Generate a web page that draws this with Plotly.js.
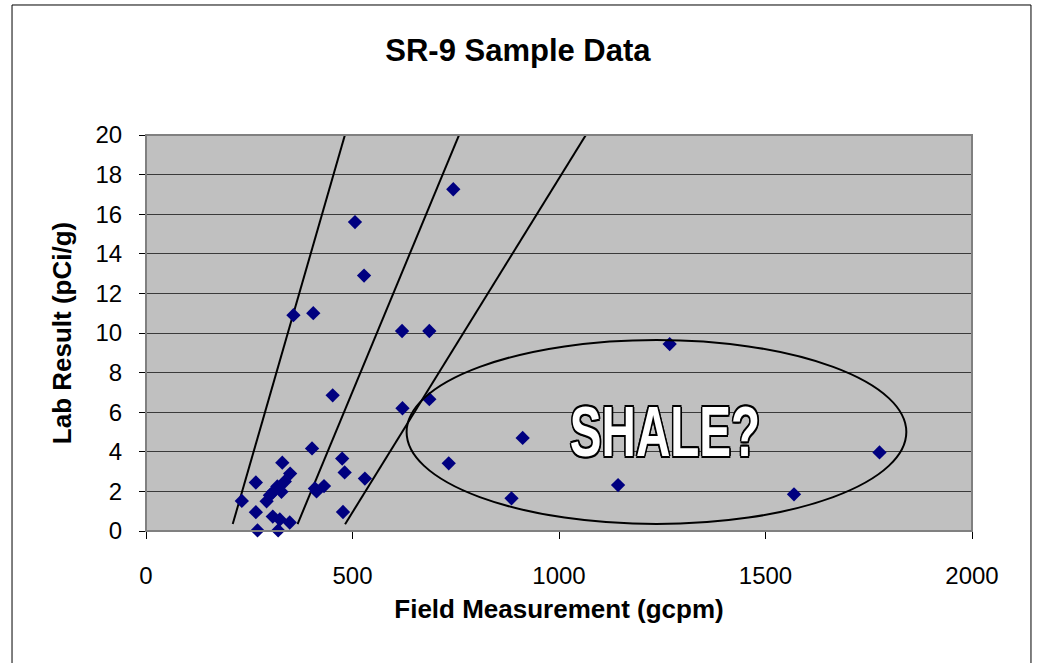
<!DOCTYPE html>
<html>
<head>
<meta charset="utf-8">
<script src="https://cdn.plot.ly/plotly-3.0.1.min.js"></script>
<style>
  html, body { margin: 0; padding: 0; background: #ffffff; }
  #chart { width: 1040px; height: 663px; }
</style>
</head>
<body>
<div id="chart"></div>
<script>
// Sample points: field measurement (gcpm) vs lab result (pCi/g)
var fieldGcpm = [232, 266, 266, 270, 292, 307, 336, 318, 308, 328, 300, 330, 324, 320, 349, 348,
                 357, 405, 402, 409, 413, 431, 452, 475, 481, 477, 506, 528, 530,
                 620, 686, 621, 686, 744, 733, 885, 912, 1143, 1268, 1569, 1776];
var labPci    = [1.52, 2.45, 0.95, 0.03, 1.5, 0.73, 2.5, 2.25, 1.98, 1.98, 1.8, 3.45, 0.58, 0.03, 2.9, 0.43,
                 10.9, 11.0, 4.17, 2.15, 2.0, 2.27, 6.85, 3.66, 2.96, 0.96, 15.6, 12.9, 2.65,
                 10.1, 10.1, 6.2, 6.66, 17.26, 3.42, 1.65, 4.7, 2.32, 9.44, 1.85, 3.97];

// Hand-drawn guide lines (endpoints in data units)
var line1X = [210, 483];  var line1Y = [0.35, 20.1];
var line2X = [367, 760];  var line2Y = [0.35, 20.1];
var line3X = [482, 1068]; var line3Y = [0.34, 20.1];

// "SHALE?" ellipse bounds (data units) and label
var ellipseX = [631, 1841];
var ellipseY = [0.35, 9.65];
var shaleLabel = "SHALE?";
var shaleAt = [1257, 5.0];

var xTicks = [0, 500, 1000, 1500, 2000];
var yTicks = [0, 2, 4, 6, 8, 10, 12, 14, 16, 18, 20];

var lineStyle = {color: '#000000', width: 2};
var traces = [
  {x: line1X, y: line1Y, mode: 'lines', line: lineStyle, cliponaxis: false, hoverinfo: 'skip', showlegend: false},
  {x: line2X, y: line2Y, mode: 'lines', line: lineStyle, cliponaxis: false, hoverinfo: 'skip', showlegend: false},
  {x: line3X, y: line3Y, mode: 'lines', line: lineStyle, cliponaxis: false, hoverinfo: 'skip', showlegend: false},
  {x: fieldGcpm, y: labPci, mode: 'markers', type: 'scatter', cliponaxis: false, showlegend: false,
   marker: {symbol: 'diamond', size: 11, color: '#000080', line: {width: 0}}}
];

var fam = 'Liberation Sans, Arial, sans-serif';
var axisFont = {family: fam, size: 24, color: '#000'};
var titleFont = {family: fam, size: 26, color: '#000', weight: 'bold'};

var layout = {
  width: 1040, height: 663,
  paper_bgcolor: '#ffffff',
  plot_bgcolor: '#c0c0c0',
  margin: {l: 146, r: 68, t: 135, b: 132},
  title: {text: 'SR-9 Sample Data', x: 0.498, xanchor: 'center', y: 0.925, yanchor: 'middle',
          font: {family: fam, size: 31, color: '#000', weight: 'bold'}},
  xaxis: {
    range: [0, 2000], tickvals: xTicks, ticktext: xTicks.map(String),
    showgrid: false, zeroline: false,
    showline: true, linecolor: '#000', linewidth: 1,
    ticks: 'outside', ticklen: 7, tickcolor: '#000', ticklabelstandoff: 16,
    tickfont: axisFont,
    title: {text: 'Field Measurement (gcpm)', font: titleFont, standoff: 12}
  },
  yaxis: {
    range: [0, 20], tickvals: yTicks, ticktext: yTicks.map(String),
    showgrid: true, gridcolor: '#3a3a3a', gridwidth: 1, zeroline: false,
    showline: true, linecolor: '#000', linewidth: 1,
    ticks: 'outside', ticklen: 6, tickcolor: '#000', ticklabelstandoff: 12,
    tickfont: axisFont,
    title: {text: 'Lab Result (pCi/g)', font: titleFont, standoff: 16}
  },
  shapes: [
    {type: 'rect', xref: 'paper', yref: 'paper', x0: 0, x1: 1, y0: 0, y1: 1,
     line: {color: '#808080', width: 2}, layer: 'above'},
    {type: 'circle', xref: 'x', yref: 'y', x0: ellipseX[0], x1: ellipseX[1], y0: ellipseY[0], y1: ellipseY[1],
     line: {color: '#000', width: 2}, layer: 'above'},
    {type: 'rect', xref: 'paper', yref: 'paper', x0: -0.1622, x1: 1.0714, y0: -0.40, y1: 1.3283,
     line: {color: '#000', width: 1}}
  ],
  annotations: [
    {x: shaleAt[0], y: shaleAt[1], xref: 'x', yref: 'y', text: shaleLabel, showarrow: false,
     xanchor: 'center', yanchor: 'middle',
     font: {family: fam, size: 70, color: '#ffffff', weight: 'bold',
            shadow: '2px 0 0 #000, -2px 0 0 #000, 0 2px 0 #000, 0 -2px 0 #000, 1.5px 1.5px 0 #000, -1.5px -1.5px 0 #000, 1.5px -1.5px 0 #000, -1.5px 1.5px 0 #000'}}
  ]
};

Plotly.newPlot('chart', traces, layout, {staticPlot: true, displayModeBar: false}).then(function (gd) {
  // condense the "SHALE?" label horizontally around its centre
  var txt = gd.querySelector('.annotation-text');
  if (txt) {
    var bb = txt.getBBox();
    var cx = bb.x + bb.width / 2;
    txt.setAttribute('transform', 'translate(' + cx + ',0) scale(0.68,1) translate(' + (-cx) + ',0)');
  }
});
</script>
</body>
</html>
